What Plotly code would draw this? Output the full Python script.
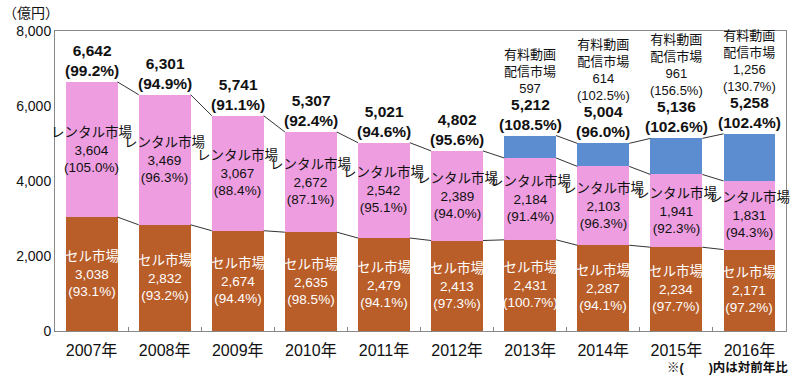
import plotly.graph_objects as go

years = ["2007年", "2008年", "2009年", "2010年", "2011年", "2012年", "2013年", "2014年", "2015年", "2016年"]
sell = [3038, 2832, 2674, 2635, 2479, 2413, 2431, 2287, 2234, 2171]
sell_pct = ["93.1%", "93.2%", "94.4%", "98.5%", "94.1%", "97.3%", "100.7%", "94.1%", "97.7%", "97.2%"]
rental = [3604, 3469, 3067, 2672, 2542, 2389, 2184, 2103, 1941, 1831]
rental_pct = ["105.0%", "96.3%", "88.4%", "87.1%", "95.1%", "94.0%", "91.4%", "96.3%", "92.3%", "94.3%"]
vod = [0, 0, 0, 0, 0, 0, 597, 614, 961, 1256]
vod_pct = ["", "", "", "", "", "", "", "102.5%", "156.5%", "130.7%"]
total = [6642, 6301, 5741, 5307, 5021, 4802, 5212, 5004, 5136, 5258]
total_pct = ["99.2%", "94.9%", "91.1%", "92.4%", "94.6%", "95.6%", "108.5%", "96.0%", "102.6%", "102.4%"]
y_ticks = [0, 2000, 4000, 6000, 8000]

SELL_C = "#B95D29"
RENT_C = "#EE9EE0"
VOD_C = "#5B8DD0"
FONT = "Arial, Liberation Sans, Noto Sans CJK JP, sans-serif"
BW = 0.71

x = list(range(len(years)))
fig = go.Figure()
fig.add_bar(x=x, y=sell, marker_color=SELL_C, width=BW, marker_line_width=0)
fig.add_bar(x=x, y=rental, marker_color=RENT_C, width=BW, marker_line_width=0)
fig.add_bar(x=x, y=vod, marker_color=VOD_C, width=BW, marker_line_width=0)

# connector lines
def connector(vals, idxs):
    xs, ys = [], []
    for a, b in zip(idxs[:-1], idxs[1:]):
        xs += [a + BW / 2, b - BW / 2, None]
        ys += [vals[a], vals[b], None]
    fig.add_trace(go.Scatter(x=xs, y=ys, mode="lines", line=dict(color="#333333", width=1), hoverinfo="skip"))

cum_rent = [s + r for s, r in zip(sell, rental)]
connector(sell, x)
connector(cum_rent, x)
vidx = [i for i in x if vod[i] > 0]
connector(total, vidx)

ann = []
for i in x:
    ann.append(dict(x=i, y=sell[i] / 2, text=f"セル市場<br>{sell[i]:,}<br>({sell_pct[i]})",
                    showarrow=False, font=dict(size=13.5, color="white", family=FONT)))
    ann.append(dict(x=i, y=sell[i] + rental[i] / 2, text=f"レンタル市場<br>{rental[i]:,}<br>({rental_pct[i]})",
                    showarrow=False, font=dict(size=13.5, color="#111111", family=FONT)))
    ann.append(dict(x=i, y=total[i], yanchor="bottom", yshift=1,
                    text=f"<b>{total[i]:,}<br>({total_pct[i]})</b>",
                    showarrow=False, font=dict(size=15.5, color="#111111", family=FONT)))
    if vod[i] > 0:
        t = f"有料動画<br>配信市場<br>{vod[i]:,}"
        if vod_pct[i]:
            t += f"<br>({vod_pct[i]})"
        ann.append(dict(x=i, y=total[i], yanchor="bottom", yshift=38, text=t,
                        showarrow=False, font=dict(size=13, color="#111111", family=FONT)))

ann.append(dict(xref="paper", yref="paper", x=0.0, y=1.0, xanchor="right", yanchor="bottom", yshift=8, xshift=6,
                text="（億円）", showarrow=False, font=dict(size=14, color="#111111", family=FONT)))
ann.append(dict(xref="paper", yref="paper", x=1.006, y=0, xanchor="right", yanchor="bottom", yshift=-46,
                text="<b>※(　　)内は対前年比</b>", showarrow=False, font=dict(size=12.5, color="#111111", family=FONT)))

fig.update_layout(
    barmode="stack",
    width=800, height=375,
    margin=dict(l=55, r=14, t=31, b=44),
    paper_bgcolor="white", plot_bgcolor="white",
    showlegend=False,
    annotations=ann,
    font=dict(family=FONT, color="#111111"),
)
fig.update_xaxes(range=[-0.5, 9.5], tickvals=x, ticktext=years, tickfont=dict(size=16), automargin=False,
                 ticklabelstandoff=5,
                 showline=True, linecolor="#888888", mirror=True, showgrid=False, ticks="",
                 minor=dict(tickvals=[i + 0.5 for i in x[:-1]], ticks="inside", ticklen=4, tickcolor="#888888"))
fig.update_yaxes(range=[0, 8000], tickvals=y_ticks, tickformat=",", tickfont=dict(size=14), automargin=False,
                 showline=True, linecolor="#888888", mirror=True, showgrid=False, zeroline=False,
                 ticks="", ticklabelstandoff=0)
fig.write_html("out.html", config={"displayModeBar": False},
               post_script="document.body.style.margin='0px';document.body.style.overflow='hidden';")
